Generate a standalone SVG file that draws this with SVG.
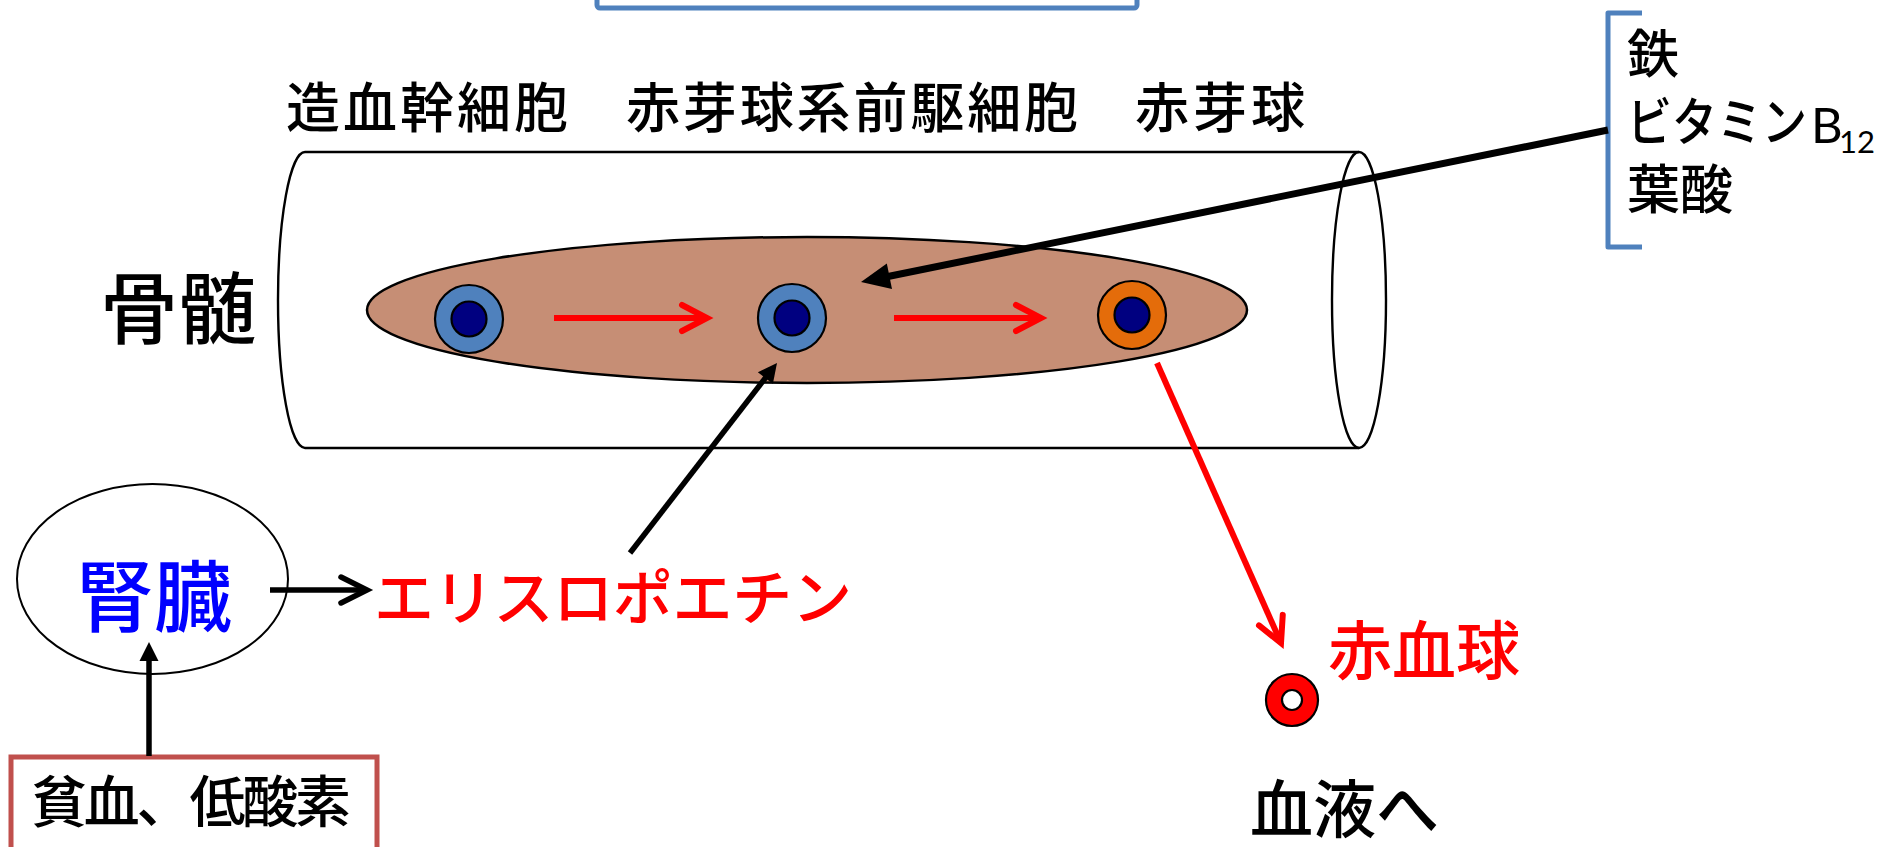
<svg xmlns="http://www.w3.org/2000/svg" width="1896" height="847" viewBox="0 0 1896 847">
  <style>
    .jp { font-family: "Noto Sans CJK JP", "Noto Sans", sans-serif; font-weight: 500; }
    .lat { font-family: Lato, "Liberation Sans", sans-serif; }
    .outline { fill: none; stroke: #000; stroke-width: 2.4; }
    .cell-out { stroke: #000; stroke-width: 2.2; }
    .nucleus { fill: #000080; stroke: #000; stroke-width: 2.2; }
    .red-arrow { fill: none; stroke: #FF0000; stroke-width: 6; }
    .blk-arrow { fill: none; stroke: #000; }
  </style>
  <defs>
    <marker id="chev-red" markerUnits="userSpaceOnUse" viewBox="-34 -20 40 40" markerWidth="40" markerHeight="40" refX="0" refY="0" orient="auto" overflow="visible">
      <path d="M-25,-13 L0,0 L-25,13" fill="none" stroke="#FF0000" stroke-width="6" stroke-linecap="round" stroke-linejoin="miter"/>
    </marker>
    <marker id="chev-black" markerUnits="userSpaceOnUse" viewBox="-34 -20 40 40" markerWidth="40" markerHeight="40" refX="0" refY="0" orient="auto" overflow="visible">
      <path d="M-26,-13 L0,0 L-26,13" fill="none" stroke="#000" stroke-width="5.5" stroke-linecap="round" stroke-linejoin="miter"/>
    </marker>
    <marker id="head-lg" markerUnits="userSpaceOnUse" viewBox="-24 -16 40 32" markerWidth="40" markerHeight="32" refX="0" refY="0" orient="auto" overflow="visible">
      <path d="M10,0 L-19,-13 L-19,13 Z" fill="#000"/>
    </marker>
    <marker id="head-sm" markerUnits="userSpaceOnUse" viewBox="-16 -12 30 24" markerWidth="30" markerHeight="24" refX="0" refY="0" orient="auto" overflow="visible">
      <path d="M8,0 L-11,-9.5 L-11,9.5 Z" fill="#000"/>
    </marker>
  </defs>

  <rect width="1896" height="847" fill="#FFFFFF"/>

  <!-- title frame, cut off at the top edge -->
  <g id="title-frame">
    <rect x="597" y="-50" width="540" height="58" rx="3" fill="#FFFFFF" stroke="#4F81BD" stroke-width="5"/>
  </g>

  <!-- bone marrow drawn as a cylinder -->
  <g id="marrow-cylinder">
    <path class="outline" d="M1359,152 H305 A27,148 0 0 0 305,448 H1359"/>
    <ellipse class="outline" cx="1359" cy="300" rx="27" ry="148" fill="#FFFFFF"/>
  </g>

  <g id="marrow-tissue">
    <ellipse cx="807" cy="310" rx="440" ry="73" fill="#C68E75" stroke="#000" stroke-width="2.5"/>
  </g>

  <g id="stem-cell">
    <circle class="cell-out" cx="469" cy="319" r="34" fill="#4F81BD"/>
    <circle class="nucleus" cx="469" cy="319" r="17.5"/>
  </g>
  <g id="progenitor-cell">
    <circle class="cell-out" cx="792" cy="318" r="34" fill="#4F81BD"/>
    <circle class="nucleus" cx="792" cy="318" r="17.5"/>
  </g>
  <g id="erythroblast">
    <circle class="cell-out" cx="1132" cy="315" r="34" fill="#E46C0A"/>
    <circle class="nucleus" cx="1132" cy="315" r="17.5"/>
  </g>

  <g id="stage-labels" class="jp" font-size="54" fill="#000">
    <text x="286" y="128" textLength="282">造血幹細胞</text>
    <text x="626" y="128" textLength="452">赤芽球系前駆細胞</text>
    <text x="1135" y="128" textLength="170">赤芽球</text>
  </g>

  <g id="marrow-label">
    <text class="jp" x="100" y="338" font-size="78" fill="#000">骨髄</text>
  </g>

  <!-- nutrients bracket -->
  <g id="nutrients">
    <path d="M1642,13 H1608 V247 H1642" fill="none" stroke="#4F81BD" stroke-width="5" stroke-linejoin="round"/>
    <text class="jp" x="1627" y="73" font-size="52" fill="#000">鉄</text>
    <text class="jp" x="1627" y="141" font-size="52" fill="#000" textLength="180" lengthAdjust="spacingAndGlyphs">ビタミン</text>
    <text class="lat" x="1811" y="143" font-size="49" fill="#000">B</text>
    <text class="lat" x="1839" y="153" font-size="31" fill="#000">12</text>
    <text class="jp" x="1627" y="209" font-size="53" fill="#000">葉酸</text>
  </g>

  <g id="kidney">
    <ellipse cx="152.5" cy="579" rx="135.5" ry="95" fill="#FFFFFF" stroke="#000" stroke-width="2"/>
    <text class="jp" x="76" y="626" font-size="78" font-weight="bold" fill="#0000FF">腎臓</text>
  </g>

  <g id="hypoxia">
    <rect x="11" y="757" width="366" height="130" fill="#FFFFFF" stroke="#C0504D" stroke-width="5"/>
    <text class="jp" x="31" y="822" font-size="56" fill="#000" textLength="320">貧血、低酸素</text>
  </g>

  <g id="epo-label">
    <text class="jp" x="374" y="620" font-size="60" fill="#FF0000" textLength="478">エリスロポエチン</text>
  </g>

  <g id="red-blood-cell">
    <circle cx="1292" cy="700" r="26" fill="#FF0000" stroke="#000" stroke-width="2.2"/>
    <circle cx="1292" cy="700" r="10" fill="#FFFFFF" stroke="#000" stroke-width="2.2"/>
    <text class="jp" x="1328" y="674" font-size="64" fill="#FF0000">赤血球</text>
    <text class="jp" x="1250" y="832" font-size="63" fill="#000">血液へ</text>
  </g>

  <g id="connectors">
    <!-- maturation steps inside the marrow -->
    <path class="red-arrow" d="M554,318 H707" marker-end="url(#chev-red)"/>
    <path class="red-arrow" d="M894,318 H1041" marker-end="url(#chev-red)"/>
    <!-- release into the blood -->
    <path class="red-arrow" d="M1157,363 L1281,643" marker-end="url(#chev-red)"/>
    <!-- nutrients supply -->
    <path class="blk-arrow" d="M1608,130 L870.8,280" stroke-width="7" marker-end="url(#head-lg)"/>
    <!-- EPO acts on progenitors -->
    <path class="blk-arrow" d="M630,553 L772.1,369.3" stroke-width="5.5" marker-end="url(#head-sm)"/>
    <!-- kidney secretes EPO -->
    <path class="blk-arrow" d="M270,590 H367" stroke-width="5.5" marker-end="url(#chev-black)"/>
    <!-- hypoxia stimulates kidney -->
    <path class="blk-arrow" d="M149,756 V650" stroke-width="5.5" marker-end="url(#head-sm)"/>
  </g>
</svg>
